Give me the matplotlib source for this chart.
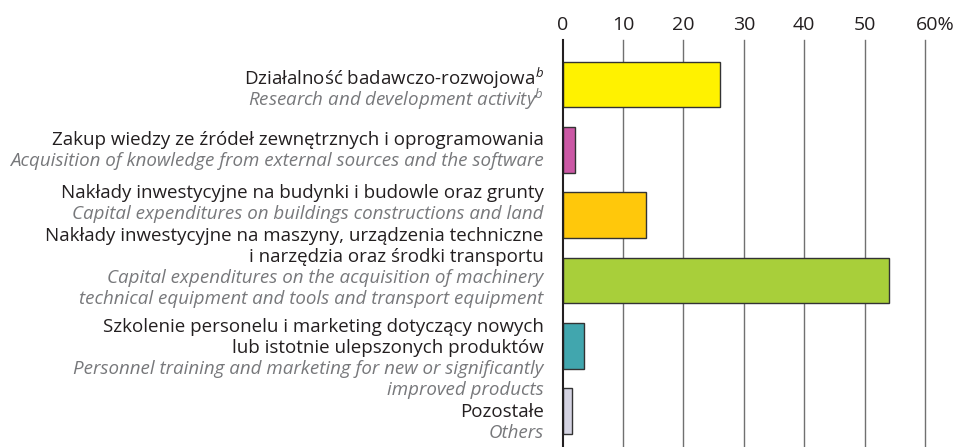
import matplotlib
matplotlib.use("Agg")
import matplotlib.pyplot as plt
import matplotlib.transforms as mtransforms

plt.rcParams["font.family"] = ["Open Sans", "DejaVu Sans"]
plt.rcParams["mathtext.fontset"] = "custom"
plt.rcParams["mathtext.rm"] = "Open Sans"
plt.rcParams["mathtext.it"] = "Open Sans:italic"

# data (percent)
values = [26.0, 2.1, 13.8, 54.0, 3.6, 1.5]
colors = ["#fff200", "#cb58a5", "#ffc80b", "#a8cf3a", "#41a6ae", "#d5d4e3"]
labels_pl = [
    ["Działalność badawczo-rozwojowa$^{\\mathit{b}}$"],
    ["Zakup wiedzy ze źródeł zewnętrznych i oprogramowania"],
    ["Nakłady inwestycyjne na budynki i budowle oraz grunty"],
    ["Nakłady inwestycyjne na maszyny, urządzenia techniczne",
     "i narzędzia oraz środki transportu"],
    ["Szkolenie personelu i marketing dotyczący nowych",
     "lub istotnie ulepszonych produktów"],
    ["Pozostałe"],
]
labels_en = [
    ["Research and development activity$^{b}$"],
    ["Acquisition of knowledge from external sources and the software"],
    ["Capital expenditures on buildings constructions and land"],
    ["Capital expenditures on the acquisition of machinery",
     "technical equipment and tools and transport equipment"],
    ["Personnel training and marketing for new or significantly",
     "improved products"],
    ["Others"],
]
xticks = [0, 10, 20, 30, 40, 50, 60]

# layout: pixel offset of first label line from bar centre, line step
first_line_px = [-9, -11.5, -24, -46, -21, -1]
line_step_px = 21

fig = plt.figure(figsize=(9.56, 4.47), dpi=100)
ax = fig.add_axes([562.7 / 956, 0.0, (925 - 562.7) / 956, 1 - 40 / 447])

pos = list(range(len(values)))
ax.barh(pos, values, height=0.70, color=colors, edgecolor="#333333",
        linewidth=1.0, zorder=3)
ax.set_ylim(5.55, -0.68)
ax.set_xlim(0, 60)

ax.set_xticks(xticks)
ax.set_xticklabels([str(t) for t in xticks[:-1]] + [f"{xticks[-1]}%"])
ax.xaxis.tick_top()
ax.tick_params(axis="x", length=0, pad=4, labelsize=14, labelcolor="#231f20")
last = ax.get_xticklabels()[-1]
last.set_horizontalalignment("left")
last.set_transform(last.get_transform() +
                   mtransforms.ScaledTranslation(-0.09, 0, fig.dpi_scale_trans))
ax.set_yticks([])
for t in xticks[1:]:
    ax.axvline(t, color="#707070", linewidth=1.0, zorder=1, clip_on=False)
for side in ["top", "right", "bottom"]:
    ax.spines[side].set_visible(False)
ax.spines["left"].set_color("#231f20")
ax.spines["left"].set_linewidth(1.5)
ax.spines["left"].set_zorder(4)

label_x = -19 / (925 - 562.7)  # axes fraction, text ends ~19 px left of axis
for i in pos:
    lines = [(s, "#231f20", "normal") for s in labels_pl[i]] + \
            [(s, "#77787b", "italic") for s in labels_en[i]]
    for k, (s, col, style) in enumerate(lines):
        dy = -(first_line_px[i] + k * line_step_px) / fig.dpi
        tr = ax.get_yaxis_transform() + mtransforms.ScaledTranslation(
            0, dy, fig.dpi_scale_trans)
        ax.text(label_x, i, s, transform=tr, ha="right",
                va="center_baseline", fontsize=13.5, color=col,
                style=style, clip_on=False)

fig.savefig("out.png", dpi=100)
